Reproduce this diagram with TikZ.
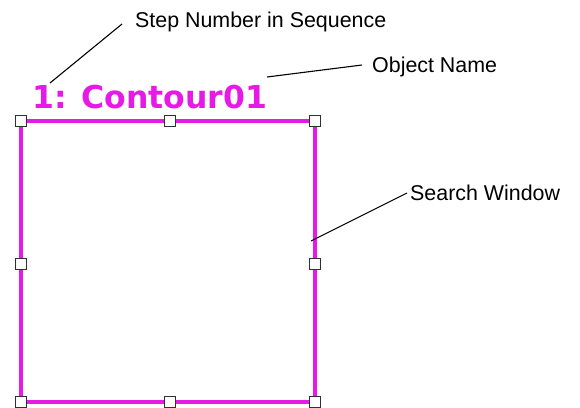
\documentclass[tikz,border=0pt]{standalone}
\usepackage{fontspec}
\setmainfont{Liberation Sans}
\newfontfamily\titlefont{DejaVu Sans}
\usetikzlibrary{positioning}
\definecolor{window}{HTML}{E619E6}
\definecolor{handle}{HTML}{303030}

\begin{document}
\begin{tikzpicture}[x=1pt,y=-1pt,
  handlebox/.style={draw=handle,fill=white,minimum size=11pt,inner sep=0pt,line width=1.1pt},
  callout/.style={font=\fontsize{21.4}{24}\selectfont,inner sep=0pt,anchor=west},
  leader/.style={black,line width=1.1pt}]
  \useasboundingbox (0,0) rectangle (580,407);

  % search window with its handles
  \draw[window,line width=3.2pt] (21,121) rectangle (315,402);
  \foreach \x/\c in {21/l,170/m,315/r} {
    \node[handlebox] (t\c) at (\x,121) {};
    \node[handlebox] (b\c) at (\x,402) {};
  }
  \node[handlebox] (ml) at (21,264) {};
  \node[handlebox] (mr) at (315,264) {};

  % step number and object name
  \node[text=window,font=\titlefont\bfseries\fontsize{31.5}{34}\selectfont,
        anchor=base west,inner sep=0pt] (title) at (32,108) {1: Contour01};

  % callouts
  \node[callout] (step) at (135,22) {Step Number in Sequence};
  \node[callout] (objname) at (372,67) {Object Name};
  \node[callout] (search) at (410,193) {Search Window};
  \coordinate (stepend) at (50,83);
  \coordinate (nameend) at (267,77);
  \coordinate (searchend) at (311,241);
  \draw[leader] (stepend) -- ([xshift=-13pt,yshift=-2pt]step.west);
  \draw[leader] (nameend) -- ([xshift=-10pt,yshift=2pt]objname.west);
  \draw[leader] (searchend) -- ([xshift=-3pt]search.west);
\end{tikzpicture}
\end{document}
